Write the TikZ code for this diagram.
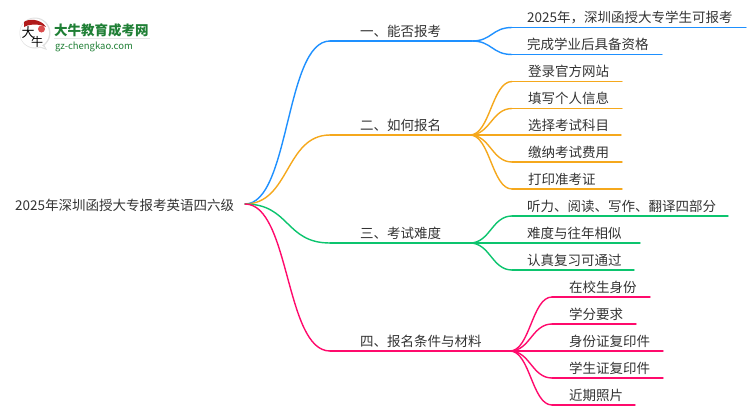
\documentclass[tikz,border=0pt]{standalone}
\usepackage{fontspec}
\setmainfont{Noto Sans CJK SC}
\usetikzlibrary{calc}
\definecolor{cblue}{HTML}{1E90FF}
\definecolor{corange}{HTML}{F5A81C}
\definecolor{cgreen}{HTML}{0CC46E}
\definecolor{cpink}{HTML}{FF0A6C}
\definecolor{ctext}{HTML}{333333}
\definecolor{logogreen}{HTML}{1F7F35}
\definecolor{logored}{HTML}{D02020}
\tikzset{
  lbl/.style={inner sep=0pt,anchor=base west,text=ctext,font=\fontsize{13.5}{13.5}\selectfont},
  conn/.style={line width=1.4pt,line cap=round},
}
\newcommand{\mmcurve}[4]{\draw[conn,#1] (#2) .. controls ($(#2)+(#4,0)$) and ($(#3)+(-#4,0)$) .. (#3);}
\begin{document}
\begin{tikzpicture}[x=1pt,y=-1pt]
\useasboundingbox (0,0) rectangle (750,410);
% logo
\fill[black!12] (36,30) -- (47,50) -- (30,44) -- cycle;
\fill[black!12] (35,33) circle (15.5);
\fill[white] (34.5,33) circle (14.5);
\fill[white] (36,40) -- (45,48) -- (32,44) -- cycle;
\fill[logored!85!black] (24,22) .. controls (28,18.5) and (41,18.5) .. (46,27) .. controls (40,24) and (30,23.5) .. (24,27) -- cycle;
\fill[logored!80] (41.5,29) circle (3.5);
\node[inner sep=0pt,text=black,font=\fontsize{13}{13}\selectfont] (logoa) at (28,33) {大};
\node[inner sep=0pt,text=black,font=\fontsize{12}{12}\selectfont] (logob) at (37,42) {牛};
\node[inner sep=0pt,anchor=base west,text=logogreen,font=\fontsize{13.5}{13.5}\selectfont\bfseries] (logot) at (54,35) {大牛教育成考网};
\fill[black!10] (54,38) rectangle (150,39);
\node[inner sep=0pt,anchor=base west,text=logogreen,font=\fontsize{9.5}{9.5}\selectfont] (logou) at (55,49) {gz-chengkao.com};

% root
\node[lbl] (root) at (15,210) {2025年深圳函授大专报考英语四六级};
\coordinate (o) at (245,204);

% level-1
\node[lbl] (a) at (360,36) {一、能否报考};
\node[lbl] (b) at (360,130) {二、如何报名};
\node[lbl] (c) at (360,238) {三、考试难度};
\node[lbl] (d) at (360,346) {四、报名条件与材料};
\coordinate (a0) at (330,41);  \coordinate (a1) at (472,41);
\coordinate (b0) at (330,135); \coordinate (b1) at (470,135);
\coordinate (c0) at (330,243); \coordinate (c1) at (470,243);
\coordinate (d0) at (330,351); \coordinate (d1) at (510,351);
\mmcurve{cblue}{o}{a0}{45}
\mmcurve{corange}{o}{b0}{45}
\mmcurve{cgreen}{o}{c0}{45}
\mmcurve{cpink}{o}{d0}{45}
\draw[conn,cblue] (a0) -- (a1);
\draw[conn,corange] (b0) -- (b1);
\draw[conn,cgreen] (c0) -- (c1);
\draw[conn,cpink] (d0) -- (d1);

% leaves
\node[lbl] (a1t) at (527,22) {2025年，深圳函授大专学生可报考};
\node[lbl] (a2t) at (527,49) {完成学业后具备资格};
\node[lbl] (b1t) at (528,76) {登录官方网站};
\node[lbl] (b2t) at (528,103) {填写个人信息};
\node[lbl] (b3t) at (528,130) {选择考试科目};
\node[lbl] (b4t) at (528,157) {缴纳考试费用};
\node[lbl] (b5t) at (528,184) {打印准考证};
\node[lbl] (c1t) at (527,211) {听力、阅读、写作、翻译四部分};
\node[lbl] (c2t) at (527,238) {难度与往年相似};
\node[lbl] (c3t) at (527,265) {认真复习可通过};
\node[lbl] (d1t) at (569,292) {在校生身份};
\node[lbl] (d2t) at (569,319) {学分要求};
\node[lbl] (d3t) at (569,346) {身份证复印件};
\node[lbl] (d4t) at (569,373) {学生证复印件};
\node[lbl] (d5t) at (569,400) {近期照片};

\foreach \n/\pr/\y/\xa/\xb/\col in {
  p1/a1/27.5/512/746/cblue, p2/a1/54.5/512/662/cblue,
  p3/b1/81.5/512/622/corange, p4/b1/108.5/512/622/corange, p5/b1/135/512/621/corange,
  p6/b1/162/512/622/corange, p7/b1/189/512/622/corange,
  p8/c1/216/512/728/cgreen, p9/c1/243/512/640/cgreen, p10/c1/270/512/634/cgreen,
  p11/d1/297/552/650/cpink, p12/d1/324/552/636/cpink, p13/d1/351/552/663/cpink,
  p14/d1/378/552/663/cpink, p15/d1/405/552/635/cpink}{
  \coordinate (\n s) at (\xa,\y);
  \coordinate (\n e) at (\xb,\y);
  \mmcurve{\col}{\pr}{\n s}{20}
  \draw[conn,\col] (\n s) -- (\n e);
}
\end{tikzpicture}
\end{document}
